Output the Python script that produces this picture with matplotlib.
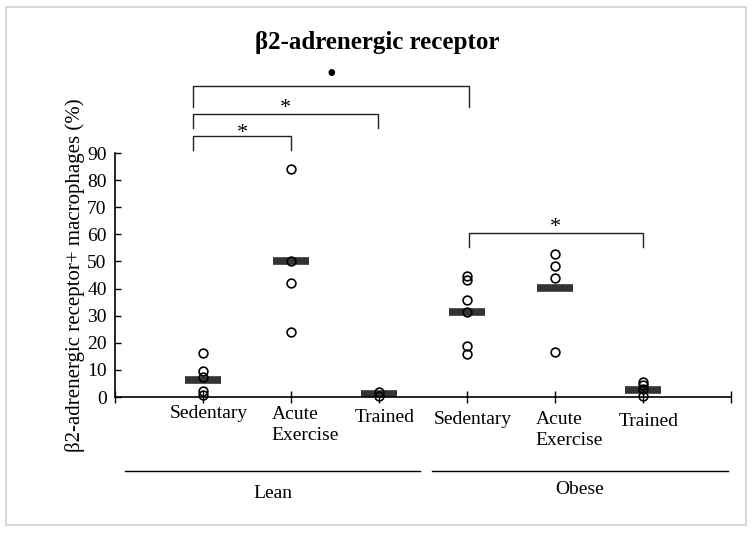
import matplotlib
matplotlib.use("Agg")
import matplotlib.pyplot as plt
import matplotlib.transforms as mtrans
from matplotlib.patches import Rectangle
from matplotlib.lines import Line2D

plt.rcParams['font.family'] = ['Liberation Serif', 'DejaVu Serif']

# data
conditions = ['Sedentary', 'Acute\nExercise', 'Trained', 'Sedentary', 'Acute\nExercise', 'Trained']
groups = ['Lean', 'Obese']
lean_sedentary = [16.3, 9.7, 7.5, 2.3, 0.7]
lean_acute = [84.1, 50.3, 42.2, 24.0]
lean_trained = [1.8, 0.3]
obese_sedentary = [44.7, 43.2, 35.8, 31.2, 18.8, 15.7]
obese_acute = [52.7, 48.3, 43.8, 16.7]
obese_trained = [5.6, 4.4, 2.8, 0.3]
means = [6.1, 50.0, 1.0, 31.5, 40.3, 2.6]
yticks = [0, 10, 20, 30, 40, 50, 60, 70, 80, 90]

# significance brackets: (x left, x right, y top, leg bottom, label, label y)
brackets = [
    (0.886, 2.0, 96.3, 91.1, '*', 98.9),
    (0.886, 2.99, 104.4, 99.2, '*', 108.1),
    (0.886, 4.02, 114.7, 107.0, '\u2022', 119.5),
    (4.02, 6.0, 60.5, 55.3, '*', 64.2),
]

values = [lean_sedentary, lean_acute, lean_trained,
          obese_sedentary, obese_acute, obese_trained]
pos = list(range(1, len(values) + 1))

W, H = 754, 534
fig = plt.figure(figsize=(W / 100, H / 100), dpi=100)
ax = fig.add_axes([115 / W, 1 - 397 / H, 616 / W, 244 / H])

# mean bars
ax.hlines(means, [p - 0.2 for p in pos], [p + 0.2 for p in pos],
          colors='#333333', linewidth=5.5, zorder=2)
# individual points
for p, v in zip(pos, values):
    ax.plot([p] * len(v), v, 'o', ms=6.3, mfc='none', mec='black', mew=1.2,
            zorder=3, clip_on=False)

ax.set_xlim(0, 7)
ax.set_ylim(0, 90)
ax.set_yticks(yticks)
ax.set_xticks(range(0, 8))
ax.set_xticklabels([])
ax.tick_params(axis='y', direction='in', length=4, width=1, labelsize=14, pad=6)
ax.tick_params(axis='x', direction='inout', length=8, width=1)
for s in ['top', 'right']:
    ax.spines[s].set_visible(False)
for s in ['left', 'bottom']:
    ax.spines[s].set_linewidth(1.2)
ax.set_ylabel('\u03b22-adrenergic receptor+ macrophages (%)', fontsize=15, labelpad=1.5)

# brackets above the plot
for x0, x1, yt, yb, lab, ly in brackets:
    ax.plot([x0, x0, x1, x1], [yb, yt, yt, yb], color='#222222', lw=1.0, clip_on=False)
    if lab == '*':
        ax.text((x0 + x1) / 2, ly - 1.6, lab, ha='center', va='center', fontsize=16)
    else:
        ax.text((x0 + x1) / 2, ly - 1.0, lab, ha='center', va='center', fontsize=20)

# category labels under the axis
tr = mtrans.blended_transform_factory(ax.transData, fig.transFigure)
label_y = [414, 425, 417, 420, 430, 422]
for p, name, ly in zip(pos, conditions, label_y):
    if '\n' in name:
        ax.text(p - 0.22, 1 - ly / H, name, transform=tr, ha='left', va='center',
                fontsize=14, linespacing=1.3)
    else:
        ax.text(p + 0.07, 1 - ly / H, name, transform=tr, ha='center', va='center',
                fontsize=14)

# group lines and names
for (xa, xb), g, gy in zip([(0.11, 3.47), (3.60, 6.97)], groups, [493, 489]):
    fig.add_artist(Line2D([xa, xb], [1 - 471 / H, 1 - 471 / H], transform=tr,
                          color='black', lw=1.0))
    ax.text((xa + xb) / 2, 1 - gy / H, g, transform=tr, ha='center', va='center',
            fontsize=14)

fig.text(0.5, 1 - 42 / H, '\u03b22-adrenergic receptor', ha='center', va='center',
         fontsize=18, fontweight='bold')

fig.add_artist(Rectangle((6 / W, 1 - 525 / H), 740 / W, 518 / H, transform=fig.transFigure,
                         fill=False, edgecolor='#d9d9d9', lw=1.5))

fig.savefig('out.png', dpi=100)
